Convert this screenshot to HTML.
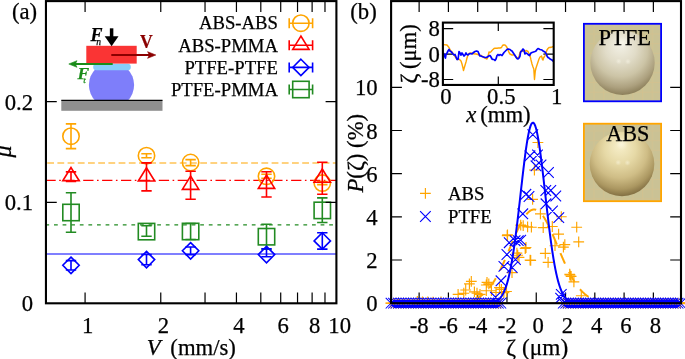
<!DOCTYPE html>
<html><head><meta charset="utf-8"><style>
html,body{margin:0;padding:0;background:#fff;width:685px;height:359px;overflow:hidden;position:relative}
text{font-family:"Liberation Serif",serif;stroke:#000;stroke-width:0.25px}
</style></head><body>
<svg width="685" height="359" viewBox="0 0 685 359" style="position:absolute;left:0;top:0;will-change:transform">
<defs>
<radialGradient id="sphP" cx="0.47" cy="0.36" r="0.7" fx="0.47" fy="0.2">
<stop offset="0" stop-color="#f4f2e8"/><stop offset="0.35" stop-color="#e1dcc8"/><stop offset="0.6" stop-color="#ccc4a6"/><stop offset="0.8" stop-color="#aca07e"/><stop offset="0.95" stop-color="#877a55"/></radialGradient>
<radialGradient id="sphA" cx="0.47" cy="0.36" r="0.7" fx="0.47" fy="0.2">
<stop offset="0" stop-color="#f8f0cc"/><stop offset="0.35" stop-color="#e6d9a6"/><stop offset="0.6" stop-color="#cfbd86"/><stop offset="0.8" stop-color="#ab9761"/><stop offset="0.95" stop-color="#7c693e"/></radialGradient>
<radialGradient id="spec"><stop offset="0" stop-color="#fffdf0" stop-opacity="0.45"/><stop offset="1" stop-color="#fffdf0" stop-opacity="0"/></radialGradient>
<pattern id="grid" x="583.8" y="23.8" width="9.7" height="9.7" patternUnits="userSpaceOnUse"><rect width="9.7" height="9.7" fill="#cac295"/><path d="M0 0.5H9.7M0.5 0V9.7" stroke="#dcc08a" stroke-width="1" opacity="0.4"/></pattern>
</defs>
<line x1="45.95" y1="163.0" x2="336.4" y2="163.0" stroke="#ffa500" stroke-width="1.2" stroke-dasharray="6.8 3.4" stroke-dashoffset="8.95"/>
<line x1="45.95" y1="180.3" x2="336.4" y2="180.3" stroke="#ff0000" stroke-width="1.2" stroke-dasharray="10.3 3.5 1.6 3.5" stroke-dashoffset="0.55"/>
<line x1="45.95" y1="224.9" x2="336.4" y2="224.9" stroke="#228b22" stroke-width="1.2" stroke-dasharray="3.75 4.85" stroke-dashoffset="0.55"/>
<line x1="45.95" y1="254.0" x2="336.4" y2="254.0" stroke="#0000ff" stroke-width="1.1"/>
<path d="M71.0 123.9V148.6M65.8 123.9H76.2M65.8 148.6H76.2" fill="none" stroke="#ffa500" stroke-width="1.6"/>
<circle cx="71.0" cy="136.2" r="8.2" fill="none" stroke="#ffa500" stroke-width="1.6"/>
<path d="M146.5 153.7V157.8M141.3 153.7H151.7M141.3 157.8H151.7" fill="none" stroke="#ffa500" stroke-width="1.6"/>
<circle cx="146.5" cy="155.7" r="8.2" fill="none" stroke="#ffa500" stroke-width="1.6"/>
<path d="M190.6 159.6V165.6M185.4 159.6H195.79999999999998M185.4 165.6H195.79999999999998" fill="none" stroke="#ffa500" stroke-width="1.6"/>
<circle cx="190.6" cy="162.5" r="8.2" fill="none" stroke="#ffa500" stroke-width="1.6"/>
<path d="M266.5 174.3V178.3M261.3 174.3H271.7M261.3 178.3H271.7" fill="none" stroke="#ffa500" stroke-width="1.6"/>
<circle cx="266.5" cy="176.3" r="8.2" fill="none" stroke="#ffa500" stroke-width="1.6"/>
<path d="M322.3 181.6V184.6M317.1 181.6H327.5M317.1 184.6H327.5" fill="none" stroke="#ffa500" stroke-width="1.6"/>
<circle cx="322.3" cy="183.1" r="8.2" fill="none" stroke="#ffa500" stroke-width="1.6"/>
<path d="M71.0 171.9V181.5M65.8 171.9H76.2M65.8 181.5H76.2" fill="none" stroke="#ff0000" stroke-width="1.6"/>
<path d="M71.0 167.52L62.80 180.80H79.20Z" fill="none" stroke="#ff0000" stroke-width="1.6" stroke-linejoin="miter"/>
<path d="M146.5 162.9V190.9M141.3 162.9H151.7M141.3 190.9H151.7" fill="none" stroke="#ff0000" stroke-width="1.6"/>
<path d="M146.5 167.72L138.30 181.00H154.70Z" fill="none" stroke="#ff0000" stroke-width="1.6" stroke-linejoin="miter"/>
<path d="M190.6 171.3V199.2M185.4 171.3H195.79999999999998M185.4 199.2H195.79999999999998" fill="none" stroke="#ff0000" stroke-width="1.6"/>
<path d="M190.6 176.12L182.40 189.40H198.80Z" fill="none" stroke="#ff0000" stroke-width="1.6" stroke-linejoin="miter"/>
<path d="M266.5 171.7V197.0M261.3 171.7H271.7M261.3 197.0H271.7" fill="none" stroke="#ff0000" stroke-width="1.6"/>
<path d="M266.5 175.12L258.30 188.40H274.70Z" fill="none" stroke="#ff0000" stroke-width="1.6" stroke-linejoin="miter"/>
<path d="M322.3 162.2V194.2M317.1 162.2H327.5M317.1 194.2H327.5" fill="none" stroke="#ff0000" stroke-width="1.6"/>
<path d="M322.3 169.02L314.10 182.30H330.50Z" fill="none" stroke="#ff0000" stroke-width="1.6" stroke-linejoin="miter"/>
<path d="M71.0 192.7V232.3M65.8 192.7H76.2M65.8 232.3H76.2" fill="none" stroke="#228b22" stroke-width="1.6"/>
<rect x="62.80" y="204.30" width="16.40" height="16.40" fill="none" stroke="#228b22" stroke-width="1.6"/>
<path d="M146.5 225.8V236.3M141.3 225.8H151.7M141.3 236.3H151.7" fill="none" stroke="#228b22" stroke-width="1.6"/>
<rect x="138.30" y="223.40" width="16.40" height="16.40" fill="none" stroke="#228b22" stroke-width="1.6"/>
<path d="M190.6 223.5V239.5M185.4 223.5H195.79999999999998M185.4 239.5H195.79999999999998" fill="none" stroke="#228b22" stroke-width="1.6"/>
<rect x="182.40" y="223.30" width="16.40" height="16.40" fill="none" stroke="#228b22" stroke-width="1.6"/>
<path d="M266.5 224.2V249.2M261.3 224.2H271.7M261.3 249.2H271.7" fill="none" stroke="#228b22" stroke-width="1.6"/>
<rect x="258.30" y="228.50" width="16.40" height="16.40" fill="none" stroke="#228b22" stroke-width="1.6"/>
<path d="M322.3 197.9V222.5M317.1 197.9H327.5M317.1 222.5H327.5" fill="none" stroke="#228b22" stroke-width="1.6"/>
<rect x="314.10" y="202.20" width="16.40" height="16.40" fill="none" stroke="#228b22" stroke-width="1.6"/>
<path d="M71.0 260.6V270.0M65.8 260.6H76.2M65.8 270.0H76.2" fill="none" stroke="#0000ff" stroke-width="1.6"/>
<path d="M71.0 257.10L79.20 265.3L71.0 273.50L62.80 265.3Z" fill="none" stroke="#0000ff" stroke-width="1.6"/>
<path d="M146.5 254.5V264.7M141.3 254.5H151.7M141.3 264.7H151.7" fill="none" stroke="#0000ff" stroke-width="1.6"/>
<path d="M146.5 251.40L154.70 259.6L146.5 267.80L138.30 259.6Z" fill="none" stroke="#0000ff" stroke-width="1.6"/>
<path d="M190.6 247.0V254.6M185.4 247.0H195.79999999999998M185.4 254.6H195.79999999999998" fill="none" stroke="#0000ff" stroke-width="1.6"/>
<path d="M190.6 242.60L198.80 250.8L190.6 259.00L182.40 250.8Z" fill="none" stroke="#0000ff" stroke-width="1.6"/>
<path d="M266.5 248.7V256.7M261.3 248.7H271.7M261.3 256.7H271.7" fill="none" stroke="#0000ff" stroke-width="1.6"/>
<path d="M266.5 246.40L274.70 254.6L266.5 262.80L258.30 254.6Z" fill="none" stroke="#0000ff" stroke-width="1.6"/>
<path d="M322.3 232.7V249.1M317.1 232.7H327.5M317.1 249.1H327.5" fill="none" stroke="#0000ff" stroke-width="1.6"/>
<path d="M322.3 232.70L330.50 240.9L322.3 249.10L314.10 240.9Z" fill="none" stroke="#0000ff" stroke-width="1.6"/>
<text x="277.9" y="29.4" font-family="Liberation Serif" font-size="18.7" text-anchor="end">ABS-ABS</text>
<path d="M289.2 23.2H312.6M289.2 18.2V28.2M312.6 18.2V28.2" stroke="#ffa500" stroke-width="1.6" fill="none"/>
<circle cx="300.9" cy="23.2" r="8.2" fill="none" stroke="#ffa500" stroke-width="1.6"/>
<text x="277.9" y="51.5" font-family="Liberation Serif" font-size="18.7" text-anchor="end">ABS-PMMA</text>
<path d="M289.2 45.3H312.6M289.2 40.3V50.3M312.6 40.3V50.3" stroke="#ff0000" stroke-width="1.6" fill="none"/>
<path d="M300.9 36.12L292.70 49.40H309.10Z" fill="none" stroke="#ff0000" stroke-width="1.6" stroke-linejoin="miter"/>
<text x="277.9" y="73.6" font-family="Liberation Serif" font-size="18.7" text-anchor="end">PTFE-PTFE</text>
<path d="M289.2 67.4H312.6M289.2 62.400000000000006V72.4M312.6 62.400000000000006V72.4" stroke="#0000ff" stroke-width="1.6" fill="none"/>
<path d="M300.9 59.20L309.10 67.4L300.9 75.60L292.70 67.4Z" fill="none" stroke="#0000ff" stroke-width="1.6"/>
<text x="277.9" y="95.7" font-family="Liberation Serif" font-size="18.7" text-anchor="end">PTFE-PMMA</text>
<path d="M289.2 89.5H312.6M289.2 84.5V94.5M312.6 84.5V94.5" stroke="#228b22" stroke-width="1.6" fill="none"/>
<rect x="292.70" y="81.30" width="16.40" height="16.40" fill="none" stroke="#228b22" stroke-width="1.6"/>
<clipPath id="ballclip"><rect x="80" y="66" width="70" height="34.3"/></clipPath>
<circle cx="111.5" cy="85" r="22.6" fill="#7e7efa" clip-path="url(#ballclip)"/>
<rect x="61.3" y="100.3" width="101.2" height="10.5" fill="#8f8f8f"/>
<line x1="61.3" y1="100.3" x2="162.5" y2="100.3" stroke="#000" stroke-width="1.2"/>
<rect x="93.2" y="63.8" width="37.6" height="6.4" rx="3.2" fill="#87cefa"/>
<rect x="86.3" y="45.8" width="50.4" height="17.8" fill="#fa3434"/>
<path d="M111.3 55H150" stroke="#8b0000" stroke-width="2.0"/><path d="M155.8 55L147.6 51.7L149.4 55L147.6 58.3Z" fill="#8b0000" stroke="#8b0000" stroke-width="0.6" stroke-linejoin="round"/>
<path d="M112.7 64H75" stroke="#1a8c1a" stroke-width="2.0"/><path d="M68.8 64L77 60.7L75.3 64L77 67.3Z" fill="#1a8c1a" stroke="#1a8c1a" stroke-width="0.6" stroke-linejoin="round"/>
<path d="M111.6 28.3V37.5" stroke="#000" stroke-width="3.5"/><path d="M111.6 46.3L104.7 36.2H118.5Z" fill="#000"/>
<text x="90.6" y="40.6" font-family="Liberation Serif" font-size="18" font-weight="bold" font-style="italic">F</text>
<text x="96.2" y="45.2" font-family="Liberation Serif" font-size="9.5" font-style="italic">n</text>
<text x="140.1" y="47.7" font-family="Liberation Serif" font-size="19" font-weight="bold" fill="#8b0000" style="stroke:#8b0000" transform="translate(140.1 0) scale(0.93 1) translate(-140.1 0)">V</text>
<text x="77.4" y="79.2" font-family="Liberation Serif" font-size="17.5" font-weight="bold" font-style="italic" fill="#1a8c1a" style="stroke:#1a8c1a">F</text>
<text x="83.3" y="83.4" font-family="Liberation Serif" font-size="9" font-style="italic" fill="#1a8c1a" style="stroke:#1a8c1a">t</text>
<rect x="45.95" y="1.1" width="290.45" height="302.2" fill="none" stroke="#000" stroke-width="2.1"/>
<path d="M85.08 303.3v-10.8M85.08 1.1v10.8M160.76 303.3v-10.8M160.76 1.1v10.8M205.03 303.3v-10.8M205.03 1.1v10.8M236.44 303.3v-10.8M236.44 1.1v10.8M260.80 303.3v-10.8M260.80 1.1v10.8M280.71 303.3v-10.8M280.71 1.1v10.8M297.54 303.3v-10.8M297.54 1.1v10.8M312.12 303.3v-10.8M312.12 1.1v10.8M324.98 303.3v-10.8M324.98 1.1v10.8M45.95 202.45h10.8M336.4 202.45h-10.8M45.95 101.60h10.8M336.4 101.60h-10.8" stroke="#000" stroke-width="1.2" fill="none"/>
<text x="87.6" y="333.1" font-family="Liberation Serif" font-size="22.7" text-anchor="middle">1</text>
<text x="163.3" y="333.1" font-family="Liberation Serif" font-size="22.7" text-anchor="middle">2</text>
<text x="238.9" y="333.1" font-family="Liberation Serif" font-size="22.7" text-anchor="middle">4</text>
<text x="283.2" y="333.1" font-family="Liberation Serif" font-size="22.7" text-anchor="middle">6</text>
<text x="314.6" y="333.1" font-family="Liberation Serif" font-size="22.7" text-anchor="middle">8</text>
<text x="339.7" y="333.1" font-family="Liberation Serif" font-size="22.7" text-anchor="middle">10</text>
<text x="33.1" y="311.3" font-family="Liberation Serif" font-size="22.7" text-anchor="end">0</text>
<text x="33.1" y="210.4" font-family="Liberation Serif" font-size="22.7" text-anchor="end">0.1</text>
<text x="33.1" y="109.6" font-family="Liberation Serif" font-size="22.7" text-anchor="end">0.2</text>
<text x="146.8" y="354.7" font-family="Liberation Serif" font-size="22.7"><tspan font-style="italic">V</tspan><tspan dx="9.7">(mm/s)</tspan></text>
<text transform="translate(11.2 151.6) rotate(-90)" font-family="Liberation Serif" font-size="24" font-style="italic" text-anchor="middle">μ</text>
<text x="12" y="19.3" font-family="Liberation Serif" font-size="22.7">(a)</text>
<text x="350.3" y="19.3" font-family="Liberation Serif" font-size="22.7">(b)</text>
<path d="M419.13 303.2v-10.8M419.13 1.1v10.8M448.41 303.2v-10.8M448.41 1.1v10.8M477.69 303.2v-10.8M477.69 1.1v10.8M506.97 303.2v-10.8M506.97 1.1v10.8M536.25 303.2v-10.8M536.25 1.1v10.8M565.53 303.2v-10.8M565.53 1.1v10.8M594.81 303.2v-10.8M594.81 1.1v10.8M624.09 303.2v-10.8M624.09 1.1v10.8M653.37 303.2v-10.8M653.37 1.1v10.8M391.1 260.02h10.8M681.0 260.02h-10.8M391.1 216.84h10.8M681.0 216.84h-10.8M391.1 173.66h10.8M681.0 173.66h-10.8M391.1 130.48h10.8M681.0 130.48h-10.8M391.1 87.30h10.8M681.0 87.30h-10.8" stroke="#000" stroke-width="1.2" fill="none"/>
<path d="M385.62 303.20h10.8M391.02 297.80v10.8M388.12 303.20h10.8M393.52 297.80v10.8M390.61 303.20h10.8M396.01 297.80v10.8M393.11 303.20h10.8M398.51 297.80v10.8M395.61 303.20h10.8M401.01 297.80v10.8M398.10 303.20h10.8M403.50 297.80v10.8M400.60 303.20h10.8M406.00 297.80v10.8M403.09 303.20h10.8M408.49 297.80v10.8M405.59 303.20h10.8M410.99 297.80v10.8M408.09 303.20h10.8M413.49 297.80v10.8M410.58 303.20h10.8M415.98 297.80v10.8M413.08 303.20h10.8M418.48 297.80v10.8M415.57 303.20h10.8M420.97 297.80v10.8M418.07 303.20h10.8M423.47 297.80v10.8M420.57 303.20h10.8M425.97 297.80v10.8M423.06 303.20h10.8M428.46 297.80v10.8M425.56 303.20h10.8M430.96 297.80v10.8M428.06 303.20h10.8M433.46 297.80v10.8M430.55 303.20h10.8M435.95 297.80v10.8M433.05 303.20h10.8M438.45 297.80v10.8M435.54 303.20h10.8M440.94 297.80v10.8M438.04 303.20h10.8M443.44 297.80v10.8M440.54 303.20h10.8M445.94 297.80v10.8M443.03 303.20h10.8M448.43 297.80v10.8M445.53 303.20h10.8M450.93 297.80v10.8M448.02 303.20h10.8M453.42 297.80v10.8M450.52 303.20h10.8M455.92 297.80v10.8M453.02 303.20h10.8M458.42 297.80v10.8M455.51 303.20h10.8M460.91 297.80v10.8M458.01 303.20h10.8M463.41 297.80v10.8M460.50 303.20h10.8M465.90 297.80v10.8M463.00 303.20h10.8M468.40 297.80v10.8M465.50 303.20h10.8M470.90 297.80v10.8M467.99 303.20h10.8M473.39 297.80v10.8M470.49 303.20h10.8M475.89 297.80v10.8M472.99 303.20h10.8M478.39 297.80v10.8M475.48 303.20h10.8M480.88 297.80v10.8M477.98 303.20h10.8M483.38 297.80v10.8M480.47 303.20h10.8M485.87 297.80v10.8M482.97 303.20h10.8M488.37 297.80v10.8M485.47 303.20h10.8M490.87 297.80v10.8M487.96 303.20h10.8M493.36 297.80v10.8M490.46 303.20h10.8M495.86 297.80v10.8M492.95 303.20h10.8M498.35 297.80v10.8M495.45 303.20h10.8M500.85 297.80v10.8M557.85 303.20h10.8M563.25 297.80v10.8M560.35 303.20h10.8M565.75 297.80v10.8M562.85 303.20h10.8M568.25 297.80v10.8M565.34 303.20h10.8M570.74 297.80v10.8M567.84 303.20h10.8M573.24 297.80v10.8M570.33 303.20h10.8M575.73 297.80v10.8M572.83 303.20h10.8M578.23 297.80v10.8M575.33 303.20h10.8M580.73 297.80v10.8M577.82 303.20h10.8M583.22 297.80v10.8M580.32 303.20h10.8M585.72 297.80v10.8M582.81 303.20h10.8M588.21 297.80v10.8M585.31 303.20h10.8M590.71 297.80v10.8M587.81 303.20h10.8M593.21 297.80v10.8M590.30 303.20h10.8M595.70 297.80v10.8M592.80 303.20h10.8M598.20 297.80v10.8M595.30 303.20h10.8M600.70 297.80v10.8M597.79 303.20h10.8M603.19 297.80v10.8M600.29 303.20h10.8M605.69 297.80v10.8M602.78 303.20h10.8M608.18 297.80v10.8M605.28 303.20h10.8M610.68 297.80v10.8M607.78 303.20h10.8M613.18 297.80v10.8M610.27 303.20h10.8M615.67 297.80v10.8M612.77 303.20h10.8M618.17 297.80v10.8M615.26 303.20h10.8M620.66 297.80v10.8M617.76 303.20h10.8M623.16 297.80v10.8M620.26 303.20h10.8M625.66 297.80v10.8M622.75 303.20h10.8M628.15 297.80v10.8M625.25 303.20h10.8M630.65 297.80v10.8M627.74 303.20h10.8M633.14 297.80v10.8M630.24 303.20h10.8M635.64 297.80v10.8M632.74 303.20h10.8M638.14 297.80v10.8M635.23 303.20h10.8M640.63 297.80v10.8M637.73 303.20h10.8M643.13 297.80v10.8M640.23 303.20h10.8M645.63 297.80v10.8M642.72 303.20h10.8M648.12 297.80v10.8M645.22 303.20h10.8M650.62 297.80v10.8M647.71 303.20h10.8M653.11 297.80v10.8M650.21 303.20h10.8M655.61 297.80v10.8M652.71 303.20h10.8M658.11 297.80v10.8M655.20 303.20h10.8M660.60 297.80v10.8M657.70 303.20h10.8M663.10 297.80v10.8M660.19 303.20h10.8M665.59 297.80v10.8M662.69 303.20h10.8M668.09 297.80v10.8M665.19 303.20h10.8M670.59 297.80v10.8M667.68 303.20h10.8M673.08 297.80v10.8M670.18 303.20h10.8M675.58 297.80v10.8M672.68 303.20h10.8M678.08 297.80v10.8M675.17 303.20h10.8M680.57 297.80v10.8" stroke="#ffa500" stroke-width="1.0" fill="none"/>
<path d="M385.6 303.2H686" stroke="#ffa500" stroke-width="1.2"/>
<path d="M391.00 303.20L391.25 303.20L391.50 303.20L391.75 303.20L392.00 303.20L392.25 303.20L392.50 303.20L392.75 303.20L393.00 303.20L393.25 303.20L393.50 303.20L393.75 303.20L394.00 303.20L394.25 303.20L394.50 303.20L394.75 303.20L395.00 303.20L395.25 303.20L395.50 303.20L395.75 303.20L396.00 303.20L396.25 303.20L396.50 303.20L396.75 303.20L397.00 303.20L397.25 303.20L397.50 303.20L397.75 303.20L398.00 303.20L398.25 303.20L398.50 303.20L398.75 303.20L399.00 303.20L399.25 303.20L399.50 303.20L399.75 303.20L400.00 303.20L400.25 303.20L400.50 303.20L400.75 303.20L401.00 303.20L401.25 303.20L401.50 303.20L401.75 303.20L402.00 303.20L402.25 303.20L402.50 303.20L402.75 303.20L403.00 303.20L403.25 303.20L403.50 303.20L403.75 303.20L404.00 303.20L404.25 303.20L404.50 303.20L404.75 303.20L405.00 303.20L405.25 303.20L405.50 303.20L405.75 303.20L406.00 303.20L406.25 303.20L406.50 303.20L406.75 303.20L407.00 303.20L407.25 303.20L407.50 303.20L407.75 303.20L408.00 303.20L408.25 303.20L408.50 303.20L408.75 303.20L409.00 303.20L409.25 303.20L409.50 303.20L409.75 303.20L410.00 303.20L410.25 303.20L410.50 303.20L410.75 303.20L411.00 303.20L411.25 303.20L411.50 303.20L411.75 303.20L412.00 303.20L412.25 303.20L412.50 303.20L412.75 303.20L413.00 303.20L413.25 303.20L413.50 303.20L413.75 303.20L414.00 303.20L414.25 303.20L414.50 303.20L414.75 303.20L415.00 303.20L415.25 303.20L415.50 303.20L415.75 303.20L416.00 303.20L416.25 303.20L416.50 303.20L416.75 303.20L417.00 303.20L417.25 303.20L417.50 303.20L417.75 303.20L418.00 303.20L418.25 303.20L418.50 303.20L418.75 303.20L419.00 303.20L419.25 303.20L419.50 303.20L419.75 303.20L420.00 303.20L420.25 303.20L420.50 303.20L420.75 303.20L421.00 303.20L421.25 303.20L421.50 303.20L421.75 303.20L422.00 303.20L422.25 303.20L422.50 303.20L422.75 303.20L423.00 303.20L423.25 303.20L423.50 303.20L423.75 303.20L424.00 303.20L424.25 303.20L424.50 303.20L424.75 303.20L425.00 303.20L425.25 303.20L425.50 303.20L425.75 303.20L426.00 303.20L426.25 303.20L426.50 303.20L426.75 303.20L427.00 303.20L427.25 303.20L427.50 303.20L427.75 303.20L428.00 303.20L428.25 303.20L428.50 303.20L428.75 303.20L429.00 303.20L429.25 303.20L429.50 303.20L429.75 303.19L430.00 303.19L430.25 303.19L430.50 303.19L430.75 303.19L431.00 303.19L431.25 303.19L431.50 303.19L431.75 303.19L432.00 303.19L432.25 303.19L432.50 303.19L432.75 303.19L433.00 303.19L433.25 303.19L433.50 303.19L433.75 303.19L434.00 303.19L434.25 303.19L434.50 303.19L434.75 303.19L435.00 303.19L435.25 303.19L435.50 303.19L435.75 303.18L436.00 303.18L436.25 303.18L436.50 303.18L436.75 303.18L437.00 303.18L437.25 303.18L437.50 303.18L437.75 303.18L438.00 303.18L438.25 303.18L438.50 303.18L438.75 303.17L439.00 303.17L439.25 303.17L439.50 303.17L439.75 303.17L440.00 303.17L440.25 303.17L440.50 303.17L440.75 303.16L441.00 303.16L441.25 303.16L441.50 303.16L441.75 303.16L442.00 303.16L442.25 303.15L442.50 303.15L442.75 303.15L443.00 303.15L443.25 303.15L443.50 303.14L443.75 303.14L444.00 303.14L444.25 303.14L444.50 303.13L444.75 303.13L445.00 303.13L445.25 303.12L445.50 303.12L445.75 303.12L446.00 303.12L446.25 303.11L446.50 303.11L446.75 303.10L447.00 303.10L447.25 303.10L447.50 303.09L447.75 303.09L448.00 303.08L448.25 303.08L448.50 303.07L448.75 303.07L449.00 303.06L449.25 303.06L449.50 303.05L449.75 303.05L450.00 303.04L450.25 303.04L450.50 303.03L450.75 303.02L451.00 303.02L451.25 303.01L451.50 303.00L451.75 302.99L452.00 302.99L452.25 302.98L452.50 302.97L452.75 302.96L453.00 302.95L453.25 302.94L453.50 302.93L453.75 302.92L454.00 302.91L454.25 302.90L454.50 302.89L454.75 302.88L455.00 302.87L455.25 302.86L455.50 302.85L455.75 302.83L456.00 302.82L456.25 302.81L456.50 302.79L456.75 302.78L457.00 302.76L457.25 302.75L457.50 302.73L457.75 302.72L458.00 302.70L458.25 302.68L458.50 302.66L458.75 302.64L459.00 302.62L459.25 302.61L459.50 302.58L459.75 302.56L460.00 302.54L460.25 302.52L460.50 302.50L460.75 302.47L461.00 302.45L461.25 302.42L461.50 302.40L461.75 302.37L462.00 302.34L462.25 302.31L462.50 302.29L462.75 302.26L463.00 302.22L463.25 302.19L463.50 302.16L463.75 302.13L464.00 302.09L464.25 302.06L464.50 302.02L464.75 301.98L465.00 301.94L465.25 301.90L465.50 301.86L465.75 301.82L466.00 301.78L466.25 301.73L466.50 301.69L466.75 301.64L467.00 301.59L467.25 301.54L467.50 301.49L467.75 301.44L468.00 301.39L468.25 301.33L468.50 301.28L468.75 301.22L469.00 301.16L469.25 301.10L469.50 301.04L469.75 300.97L470.00 300.91L470.25 300.84L470.50 300.77L470.75 300.70L471.00 300.63L471.25 300.55L471.50 300.48L471.75 300.40L472.00 300.32L472.25 300.24L472.50 300.16L472.75 300.07L473.00 299.98L473.25 299.89L473.50 299.80L473.75 299.71L474.00 299.61L474.25 299.51L474.50 299.41L474.75 299.31L475.00 299.20L475.25 299.09L475.50 298.98L475.75 298.87L476.00 298.76L476.25 298.64L476.50 298.52L476.75 298.39L477.00 298.27L477.25 298.14L477.50 298.01L477.75 297.87L478.00 297.74L478.25 297.60L478.50 297.45L478.75 297.31L479.00 297.16L479.25 297.01L479.50 296.85L479.75 296.70L480.00 296.53L480.25 296.37L480.50 296.20L480.75 296.03L481.00 295.86L481.25 295.68L481.50 295.50L481.75 295.31L482.00 295.13L482.25 294.93L482.50 294.74L482.75 294.54L483.00 294.34L483.25 294.13L483.50 293.92L483.75 293.71L484.00 293.49L484.25 293.27L484.50 293.04L484.75 292.81L485.00 292.58L485.25 292.34L485.50 292.10L485.75 291.85L486.00 291.60L486.25 291.35L486.50 291.09L486.75 290.83L487.00 290.56L487.25 290.29L487.50 290.02L487.75 289.74L488.00 289.45L488.25 289.16L488.50 288.87L488.75 288.57L489.00 288.27L489.25 287.97L489.50 287.66L489.75 287.34L490.00 287.02L490.25 286.70L490.50 286.37L490.75 286.03L491.00 285.69L491.25 285.35L491.50 285.00L491.75 284.65L492.00 284.29L492.25 283.93L492.50 283.57L492.75 283.19L493.00 282.82L493.25 282.44L493.50 282.05L493.75 281.66L494.00 281.27L494.25 280.87L494.50 280.46L494.75 280.06L495.00 279.64L495.25 279.22L495.50 278.80L495.75 278.37L496.00 277.94L496.25 277.50L496.50 277.06L496.75 276.62L497.00 276.17L497.25 275.71L497.50 275.25L497.75 274.79L498.00 274.32L498.25 273.85L498.50 273.37L498.75 272.89L499.00 272.40L499.25 271.91L499.50 271.42L499.75 270.92L500.00 270.41L500.25 269.91L500.50 269.40L500.75 268.88L501.00 268.36L501.25 267.84L501.50 267.31L501.75 266.78L502.00 266.25L502.25 265.71L502.50 265.17L502.75 264.63L503.00 264.08L503.25 263.53L503.50 262.97L503.75 262.42L504.00 261.86L504.25 261.29L504.50 260.73L504.75 260.16L505.00 259.59L505.25 259.01L505.50 258.44L505.75 257.86L506.00 257.27L506.25 256.69L506.50 256.10L506.75 255.52L507.00 254.93L507.25 254.34L507.50 253.74L507.75 253.15L508.00 252.55L508.25 251.95L508.50 251.36L508.75 250.76L509.00 250.15L509.25 249.55L509.50 248.95L509.75 248.35L510.00 247.74L510.25 247.14L510.50 246.54L510.75 245.93L511.00 245.33L511.25 244.73L511.50 244.12L511.75 243.52L512.00 242.92L512.25 242.32L512.50 241.72L512.75 241.12L513.00 240.52L513.25 239.92L513.50 239.33L513.75 238.74L514.00 238.14L514.25 237.55L514.50 236.97L514.75 236.38L515.00 235.80L515.25 235.22L515.50 234.64L515.75 234.07L516.00 233.50L516.25 232.93L516.50 232.36L516.75 231.80L517.00 231.25L517.25 230.69L517.50 230.14L517.75 229.60L518.00 229.06L518.25 228.52L518.50 227.99L518.75 227.46L519.00 226.94L519.25 226.42L519.50 225.91L519.75 225.40L520.00 224.90L520.25 224.40L520.50 223.91L520.75 223.43L521.00 222.95L521.25 222.48L521.50 222.02L521.75 221.56L522.00 221.10L522.25 220.66L522.50 220.22L522.75 219.79L523.00 219.37L523.25 218.95L523.50 218.54L523.75 218.14L524.00 217.75L524.25 217.36L524.50 216.98L524.75 216.61L525.00 216.25L525.25 215.90L525.50 215.55L525.75 215.22L526.00 214.89L526.25 214.57L526.50 214.26L526.75 213.96L527.00 213.67L527.25 213.39L527.50 213.11L527.75 212.85L528.00 212.60L528.25 212.35L528.50 212.12L528.75 211.89L529.00 211.68L529.25 211.47L529.50 211.27L529.75 211.09L530.00 210.91L530.25 210.75L530.50 210.59L530.75 210.44L531.00 210.31L531.25 210.18L531.50 210.07L531.75 209.97L532.00 209.87L532.25 209.79L532.50 209.72L532.75 209.65L533.00 209.60L533.25 209.56L533.50 209.53L533.75 209.51L534.00 209.50L534.25 209.50L534.50 209.51L534.75 209.54L535.00 209.57L535.25 209.61L535.50 209.67L535.75 209.73L536.00 209.80L536.25 209.89L536.50 209.99L536.75 210.09L537.00 210.21L537.25 210.34L537.50 210.47L537.75 210.62L538.00 210.78L538.25 210.95L538.50 211.12L538.75 211.31L539.00 211.51L539.25 211.72L539.50 211.94L539.75 212.16L540.00 212.40L540.25 212.65L540.50 212.90L540.75 213.17L541.00 213.44L541.25 213.73L541.50 214.02L541.75 214.32L542.00 214.63L542.25 214.96L542.50 215.28L542.75 215.62L543.00 215.97L543.25 216.32L543.50 216.69L543.75 217.06L544.00 217.44L544.25 217.82L544.50 218.22L544.75 218.62L545.00 219.03L545.25 219.45L545.50 219.88L545.75 220.31L546.00 220.75L546.25 221.19L546.50 221.65L546.75 222.11L547.00 222.57L547.25 223.05L547.50 223.53L547.75 224.01L548.00 224.50L548.25 225.00L548.50 225.50L548.75 226.01L549.00 226.52L549.25 227.04L549.50 227.56L549.75 228.09L550.00 228.63L550.25 229.16L550.50 229.71L550.75 230.25L551.00 230.80L551.25 231.36L551.50 231.92L551.75 232.48L552.00 233.04L552.25 233.61L552.50 234.18L552.75 234.76L553.00 235.34L553.25 235.92L553.50 236.50L553.75 237.08L554.00 237.67L554.25 238.26L554.50 238.85L554.75 239.45L555.00 240.04L555.25 240.64L555.50 241.24L555.75 241.84L556.00 242.44L556.25 243.04L556.50 243.64L556.75 244.24L557.00 244.85L557.25 245.45L557.50 246.05L557.75 246.66L558.00 247.26L558.25 247.87L558.50 248.47L558.75 249.07L559.00 249.67L559.25 250.27L559.50 250.88L559.75 251.47L560.00 252.07L560.25 252.67L560.50 253.27L560.75 253.86L561.00 254.45L561.25 255.05L561.50 255.63L561.75 256.22L562.00 256.81L562.25 257.39L562.50 257.97L562.75 258.55L563.00 259.13L563.25 259.70L563.50 260.27L563.75 260.84L564.00 261.41L564.25 261.97L564.50 262.53L564.75 263.09L565.00 263.64L565.25 264.19L565.50 264.74L565.75 265.28L566.00 265.82L566.25 266.36L566.50 266.89L566.75 267.42L567.00 267.95L567.25 268.47L567.50 268.99L567.75 269.50L568.00 270.01L568.25 270.52L568.50 271.02L568.75 271.52L569.00 272.01L569.25 272.50L569.50 272.98L569.75 273.46L570.00 273.94L570.25 274.41L570.50 274.88L570.75 275.34L571.00 275.80L571.25 276.26L571.50 276.71L571.75 277.15L572.00 277.59L572.25 278.03L572.50 278.46L572.75 278.89L573.00 279.31L573.25 279.73L573.50 280.14L573.75 280.55L574.00 280.95L574.25 281.35L574.50 281.74L574.75 282.13L575.00 282.51L575.25 282.89L575.50 283.27L575.75 283.64L576.00 284.01L576.25 284.37L576.50 284.72L576.75 285.07L577.00 285.42L577.25 285.76L577.50 286.10L577.75 286.43L578.00 286.76L578.25 287.08L578.50 287.40L578.75 287.72L579.00 288.03L579.25 288.33L579.50 288.63L579.75 288.93L580.00 289.22L580.25 289.51L580.50 289.79L580.75 290.07L581.00 290.35L581.25 290.62L581.50 290.88L581.75 291.14L582.00 291.40L582.25 291.65L582.50 291.90L582.75 292.15L583.00 292.39L583.25 292.62L583.50 292.86L583.75 293.09L584.00 293.31L584.25 293.53L584.50 293.75L584.75 293.96L585.00 294.17L585.25 294.38L585.50 294.58L585.75 294.78L586.00 294.97L586.25 295.16L586.50 295.35L586.75 295.53L587.00 295.71L587.25 295.89L587.50 296.07L587.75 296.24L588.00 296.40L588.25 296.57L588.50 296.73L588.75 296.88L589.00 297.04L589.25 297.19L589.50 297.34L589.75 297.48L590.00 297.63L590.25 297.77L590.50 297.90L590.75 298.03L591.00 298.17L591.25 298.29L591.50 298.42L591.75 298.54L592.00 298.66L592.25 298.78L592.50 298.89L592.75 299.01L593.00 299.12L593.25 299.22L593.50 299.33L593.75 299.43L594.00 299.53L594.25 299.63L594.50 299.73L594.75 299.82L595.00 299.91L595.25 300.00L595.50 300.09L595.75 300.17L596.00 300.26L596.25 300.34L596.50 300.42L596.75 300.49L597.00 300.57L597.25 300.64L597.50 300.72L597.75 300.79L598.00 300.85L598.25 300.92L598.50 300.99L598.75 301.05L599.00 301.11L599.25 301.17L599.50 301.23L599.75 301.29L600.00 301.34L600.25 301.40L600.50 301.45L600.75 301.50L601.00 301.55L601.25 301.60L601.50 301.65L601.75 301.70L602.00 301.74L602.25 301.79L602.50 301.83L602.75 301.87L603.00 301.91L603.25 301.95L603.50 301.99L603.75 302.03L604.00 302.06L604.25 302.10L604.50 302.13L604.75 302.17L605.00 302.20L605.25 302.23L605.50 302.26L605.75 302.29L606.00 302.32L606.25 302.35L606.50 302.38L606.75 302.40L607.00 302.43L607.25 302.45L607.50 302.48L607.75 302.50L608.00 302.52L608.25 302.55L608.50 302.57L608.75 302.59L609.00 302.61L609.25 302.63L609.50 302.65L609.75 302.67L610.00 302.68L610.25 302.70L610.50 302.72L610.75 302.73L611.00 302.75L611.25 302.77L611.50 302.78L611.75 302.80L612.00 302.81L612.25 302.82L612.50 302.84L612.75 302.85L613.00 302.86L613.25 302.87L613.50 302.88L613.75 302.90L614.00 302.91L614.25 302.92L614.50 302.93L614.75 302.94L615.00 302.95L615.25 302.96L615.50 302.96L615.75 302.97L616.00 302.98L616.25 302.99L616.50 303.00L616.75 303.00L617.00 303.01L617.25 303.02L617.50 303.02L617.75 303.03L618.00 303.04L618.25 303.04L618.50 303.05L618.75 303.06L619.00 303.06L619.25 303.07L619.50 303.07L619.75 303.08L620.00 303.08L620.25 303.08L620.50 303.09L620.75 303.09L621.00 303.10L621.25 303.10L621.50 303.11L621.75 303.11L622.00 303.11L622.25 303.12L622.50 303.12L622.75 303.12L623.00 303.13L623.25 303.13L623.50 303.13L623.75 303.13L624.00 303.14L624.25 303.14L624.50 303.14L624.75 303.14L625.00 303.15L625.25 303.15L625.50 303.15L625.75 303.15L626.00 303.15L626.25 303.16L626.50 303.16L626.75 303.16L627.00 303.16L627.25 303.16L627.50 303.16L627.75 303.17L628.00 303.17L628.25 303.17L628.50 303.17L628.75 303.17L629.00 303.17L629.25 303.17L629.50 303.17L629.75 303.18L630.00 303.18L630.25 303.18L630.50 303.18L630.75 303.18L631.00 303.18L631.25 303.18L631.50 303.18L631.75 303.18L632.00 303.18L632.25 303.18L632.50 303.19L632.75 303.19L633.00 303.19L633.25 303.19L633.50 303.19L633.75 303.19L634.00 303.19L634.25 303.19L634.50 303.19L634.75 303.19L635.00 303.19L635.25 303.19L635.50 303.19L635.75 303.19L636.00 303.19L636.25 303.19L636.50 303.19L636.75 303.19L637.00 303.19L637.25 303.19L637.50 303.19L637.75 303.19L638.00 303.19L638.25 303.19L638.50 303.20L638.75 303.20L639.00 303.20L639.25 303.20L639.50 303.20L639.75 303.20L640.00 303.20L640.25 303.20L640.50 303.20L640.75 303.20L641.00 303.20L641.25 303.20L641.50 303.20L641.75 303.20L642.00 303.20L642.25 303.20L642.50 303.20L642.75 303.20L643.00 303.20L643.25 303.20L643.50 303.20L643.75 303.20L644.00 303.20L644.25 303.20L644.50 303.20L644.75 303.20L645.00 303.20L645.25 303.20L645.50 303.20L645.75 303.20L646.00 303.20L646.25 303.20L646.50 303.20L646.75 303.20L647.00 303.20L647.25 303.20L647.50 303.20L647.75 303.20L648.00 303.20L648.25 303.20L648.50 303.20L648.75 303.20L649.00 303.20L649.25 303.20L649.50 303.20L649.75 303.20L650.00 303.20L650.25 303.20L650.50 303.20L650.75 303.20L651.00 303.20L651.25 303.20L651.50 303.20L651.75 303.20L652.00 303.20L652.25 303.20L652.50 303.20L652.75 303.20L653.00 303.20L653.25 303.20L653.50 303.20L653.75 303.20L654.00 303.20L654.25 303.20L654.50 303.20L654.75 303.20L655.00 303.20L655.25 303.20L655.50 303.20L655.75 303.20L656.00 303.20L656.25 303.20L656.50 303.20L656.75 303.20L657.00 303.20L657.25 303.20L657.50 303.20L657.75 303.20L658.00 303.20L658.25 303.20L658.50 303.20L658.75 303.20L659.00 303.20L659.25 303.20L659.50 303.20L659.75 303.20L660.00 303.20L660.25 303.20L660.50 303.20L660.75 303.20L661.00 303.20L661.25 303.20L661.50 303.20L661.75 303.20L662.00 303.20L662.25 303.20L662.50 303.20L662.75 303.20L663.00 303.20L663.25 303.20L663.50 303.20L663.75 303.20L664.00 303.20L664.25 303.20L664.50 303.20L664.75 303.20L665.00 303.20L665.25 303.20L665.50 303.20L665.75 303.20L666.00 303.20L666.25 303.20L666.50 303.20L666.75 303.20L667.00 303.20L667.25 303.20L667.50 303.20L667.75 303.20L668.00 303.20L668.25 303.20L668.50 303.20L668.75 303.20L669.00 303.20L669.25 303.20L669.50 303.20L669.75 303.20L670.00 303.20L670.25 303.20L670.50 303.20L670.75 303.20L671.00 303.20L671.25 303.20L671.50 303.20L671.75 303.20L672.00 303.20L672.25 303.20L672.50 303.20L672.75 303.20L673.00 303.20L673.25 303.20L673.50 303.20L673.75 303.20L674.00 303.20L674.25 303.20L674.50 303.20L674.75 303.20L675.00 303.20L675.25 303.20L675.50 303.20L675.75 303.20L676.00 303.20L676.25 303.20L676.50 303.20L676.75 303.20L677.00 303.20L677.25 303.20L677.50 303.20L677.75 303.20L678.00 303.20L678.25 303.20L678.50 303.20L678.75 303.20L679.00 303.20L679.25 303.20L679.50 303.20L679.75 303.20L680.00 303.20L680.25 303.20L680.50 303.20L680.75 303.20L681.00 303.20L681.25 303.20L681.50 303.20L681.75 303.20L682.00 303.20L682.25 303.20L682.50 303.20L682.75 303.20L683.00 303.20L683.25 303.20L683.50 303.20L683.75 303.20L684.00 303.20L684.25 303.20L684.50 303.20L684.75 303.20L685.00 303.20L685.25 303.20L685.50 303.20L685.75 303.20L686.00 303.20L686.25 303.20L686.50 303.20L686.75 303.20L687.00 303.20L687.25 303.20L687.50 303.20L687.75 303.20L688.00 303.20L688.25 303.20L688.50 303.20L688.75 303.20L689.00 303.20L689.25 303.20L689.50 303.20L689.75 303.20" fill="none" stroke="#ffa500" stroke-width="2" stroke-dasharray="11.5 9.13" stroke-dashoffset="0.19"/>
<path d="M532.50 142.50h10.8M537.90 137.10v10.8M529.00 170.00h10.8M534.40 164.60v10.8M527.20 199.30h10.8M532.60 193.90v10.8M535.00 213.90h10.8M540.40 208.50v10.8M555.90 216.70h10.8M561.30 211.30v10.8M502.10 234.80h10.8M507.50 229.40v10.8M515.30 225.10h10.8M520.70 219.70v10.8M517.80 225.70h10.8M523.20 220.30v10.8M522.20 226.90h10.8M527.60 221.50v10.8M537.80 227.60h10.8M543.20 222.20v10.8M546.90 226.50h10.8M552.30 221.10v10.8M553.20 234.10h10.8M558.60 228.70v10.8M571.30 227.20h10.8M576.70 221.80v10.8M573.30 241.80h10.8M578.70 236.40v10.8M559.40 244.60h10.8M564.80 239.20v10.8M526.00 227.20h10.8M531.40 221.80v10.8M539.90 253.40h10.8M545.30 248.00v10.8M542.70 262.40h10.8M548.10 257.00v10.8M525.30 260.30h10.8M530.70 254.90v10.8M549.60 245.70h10.8M555.00 240.30v10.8M558.00 247.10h10.8M563.40 241.70v10.8M564.30 274.20h10.8M569.70 268.80v10.8M565.70 276.30h10.8M571.10 270.90v10.8M568.50 281.90h10.8M573.90 276.50v10.8M564.60 275.00h10.8M570.00 269.60v10.8M575.90 295.70h10.8M581.30 290.30v10.8M501.80 235.70h10.8M507.20 230.30v10.8M520.60 247.50h10.8M526.00 242.10v10.8M511.50 253.10h10.8M516.90 247.70v10.8M513.60 257.30h10.8M519.00 251.90v10.8M524.70 260.10h10.8M530.10 254.70v10.8M506.60 272.60h10.8M512.00 267.20v10.8M481.60 282.40h10.8M487.00 277.00v10.8M465.90 281.30h10.8M471.30 275.90v10.8M464.00 283.80h10.8M469.40 278.40v10.8M452.70 294.40h10.8M458.10 289.00v10.8M458.40 293.20h10.8M463.80 287.80v10.8M460.30 290.00h10.8M465.70 284.60v10.8M469.00 291.90h10.8M474.40 286.50v10.8M471.60 293.20h10.8M477.00 287.80v10.8M474.60 294.40h10.8M480.00 289.00v10.8M480.90 285.00h10.8M486.30 279.60v10.8M483.40 283.80h10.8M488.80 278.40v10.8M480.90 290.70h10.8M486.30 285.30v10.8M486.00 290.70h10.8M491.40 285.30v10.8M494.10 287.60h10.8M499.50 282.20v10.8M496.00 289.40h10.8M501.40 284.00v10.8M498.50 292.60h10.8M503.90 287.20v10.8M501.10 291.50h10.8M506.50 286.10v10.8M490.60 292.50h10.8M496.00 287.10v10.8M512.30 255.20h10.8M517.70 249.80v10.8M519.80 248.50h10.8M525.20 243.10v10.8M411.90 301.50h10.8M417.30 296.10v10.8M417.10 302.00h10.8M422.50 296.60v10.8M422.40 301.80h10.8M427.80 296.40v10.8M427.60 302.20h10.8M433.00 296.80v10.8M435.60 302.00h10.8M441.00 296.60v10.8" stroke="#ffa500" stroke-width="1.15" fill="none"/>
<path d="M527.50 129.30l10.6 10.6M527.50 139.90l10.6 -10.6M524.70 150.50l10.6 10.6M524.70 161.10l10.6 -10.6M532.20 149.70l10.6 10.6M532.20 160.30l10.6 -10.6M530.70 160.50l10.6 10.6M530.70 171.10l10.6 -10.6M535.70 159.70l10.6 10.6M535.70 170.30l10.6 -10.6M543.20 167.20l10.6 10.6M543.20 177.80l10.6 -10.6M520.60 189.00l10.6 10.6M520.60 199.60l10.6 -10.6M523.70 191.20l10.6 10.6M523.70 201.80l10.6 -10.6M540.50 185.20l10.6 10.6M540.50 195.80l10.6 -10.6M545.50 185.10l10.6 10.6M545.50 195.70l10.6 -10.6M550.50 190.70l10.6 10.6M550.50 201.30l10.6 -10.6M540.70 198.50l10.6 10.6M540.70 209.10l10.6 -10.6M547.20 205.70l10.6 10.6M547.20 216.30l10.6 -10.6M517.50 208.50l10.6 10.6M517.50 219.10l10.6 -10.6M509.80 235.40l10.6 10.6M509.80 246.00l10.6 -10.6M515.40 234.80l10.6 10.6M515.40 245.40l10.6 -10.6M553.50 212.30l10.6 10.6M553.50 222.90l10.6 -10.6M503.90 237.40l10.6 10.6M503.90 248.00l10.6 -10.6M513.00 235.30l10.6 10.6M513.00 245.90l10.6 -10.6M501.60 249.20l10.6 10.6M501.60 259.80l10.6 -10.6M510.20 254.20l10.6 10.6M510.20 264.80l10.6 -10.6M506.90 262.20l10.6 10.6M506.90 272.80l10.6 -10.6M495.70 275.50l10.6 10.6M495.70 286.10l10.6 -10.6M498.60 261.10l10.6 10.6M498.60 271.70l10.6 -10.6M490.20 291.90l10.6 10.6M490.20 302.50l10.6 -10.6M556.00 289.10l10.6 10.6M556.00 299.70l10.6 -10.6M555.30 292.90l10.6 10.6M555.30 303.50l10.6 -10.6" stroke="#0000ff" stroke-width="1.1" fill="none"/>
<path d="M385.72 297.90l10.6 10.6M385.72 308.50l10.6 -10.6M388.22 297.90l10.6 10.6M388.22 308.50l10.6 -10.6M390.71 297.90l10.6 10.6M390.71 308.50l10.6 -10.6M393.21 297.90l10.6 10.6M393.21 308.50l10.6 -10.6M395.71 297.90l10.6 10.6M395.71 308.50l10.6 -10.6M398.20 297.90l10.6 10.6M398.20 308.50l10.6 -10.6M400.70 297.90l10.6 10.6M400.70 308.50l10.6 -10.6M403.19 297.90l10.6 10.6M403.19 308.50l10.6 -10.6M405.69 297.90l10.6 10.6M405.69 308.50l10.6 -10.6M408.19 297.90l10.6 10.6M408.19 308.50l10.6 -10.6M410.68 297.90l10.6 10.6M410.68 308.50l10.6 -10.6M413.18 297.90l10.6 10.6M413.18 308.50l10.6 -10.6M415.67 297.90l10.6 10.6M415.67 308.50l10.6 -10.6M418.17 297.90l10.6 10.6M418.17 308.50l10.6 -10.6M420.67 297.90l10.6 10.6M420.67 308.50l10.6 -10.6M423.16 297.90l10.6 10.6M423.16 308.50l10.6 -10.6M425.66 297.90l10.6 10.6M425.66 308.50l10.6 -10.6M428.16 297.90l10.6 10.6M428.16 308.50l10.6 -10.6M430.65 297.90l10.6 10.6M430.65 308.50l10.6 -10.6M433.15 297.90l10.6 10.6M433.15 308.50l10.6 -10.6M435.64 297.90l10.6 10.6M435.64 308.50l10.6 -10.6M438.14 297.90l10.6 10.6M438.14 308.50l10.6 -10.6M440.64 297.90l10.6 10.6M440.64 308.50l10.6 -10.6M443.13 297.90l10.6 10.6M443.13 308.50l10.6 -10.6M445.63 297.90l10.6 10.6M445.63 308.50l10.6 -10.6M448.12 297.90l10.6 10.6M448.12 308.50l10.6 -10.6M450.62 297.90l10.6 10.6M450.62 308.50l10.6 -10.6M453.12 297.90l10.6 10.6M453.12 308.50l10.6 -10.6M455.61 297.90l10.6 10.6M455.61 308.50l10.6 -10.6M458.11 297.90l10.6 10.6M458.11 308.50l10.6 -10.6M460.60 297.90l10.6 10.6M460.60 308.50l10.6 -10.6M463.10 297.90l10.6 10.6M463.10 308.50l10.6 -10.6M465.60 297.90l10.6 10.6M465.60 308.50l10.6 -10.6M468.09 297.90l10.6 10.6M468.09 308.50l10.6 -10.6M470.59 297.90l10.6 10.6M470.59 308.50l10.6 -10.6M473.09 297.90l10.6 10.6M473.09 308.50l10.6 -10.6M475.58 297.90l10.6 10.6M475.58 308.50l10.6 -10.6M478.08 297.90l10.6 10.6M478.08 308.50l10.6 -10.6M480.57 297.90l10.6 10.6M480.57 308.50l10.6 -10.6M483.07 297.90l10.6 10.6M483.07 308.50l10.6 -10.6M485.57 297.90l10.6 10.6M485.57 308.50l10.6 -10.6M488.06 297.90l10.6 10.6M488.06 308.50l10.6 -10.6M490.56 297.90l10.6 10.6M490.56 308.50l10.6 -10.6M493.05 297.90l10.6 10.6M493.05 308.50l10.6 -10.6M495.55 297.90l10.6 10.6M495.55 308.50l10.6 -10.6M557.95 297.90l10.6 10.6M557.95 308.50l10.6 -10.6M560.45 297.90l10.6 10.6M560.45 308.50l10.6 -10.6M562.95 297.90l10.6 10.6M562.95 308.50l10.6 -10.6M565.44 297.90l10.6 10.6M565.44 308.50l10.6 -10.6M567.94 297.90l10.6 10.6M567.94 308.50l10.6 -10.6M570.43 297.90l10.6 10.6M570.43 308.50l10.6 -10.6M572.93 297.90l10.6 10.6M572.93 308.50l10.6 -10.6M575.43 297.90l10.6 10.6M575.43 308.50l10.6 -10.6M577.92 297.90l10.6 10.6M577.92 308.50l10.6 -10.6M580.42 297.90l10.6 10.6M580.42 308.50l10.6 -10.6M582.91 297.90l10.6 10.6M582.91 308.50l10.6 -10.6M585.41 297.90l10.6 10.6M585.41 308.50l10.6 -10.6M587.91 297.90l10.6 10.6M587.91 308.50l10.6 -10.6M590.40 297.90l10.6 10.6M590.40 308.50l10.6 -10.6M592.90 297.90l10.6 10.6M592.90 308.50l10.6 -10.6M595.40 297.90l10.6 10.6M595.40 308.50l10.6 -10.6M597.89 297.90l10.6 10.6M597.89 308.50l10.6 -10.6M600.39 297.90l10.6 10.6M600.39 308.50l10.6 -10.6M602.88 297.90l10.6 10.6M602.88 308.50l10.6 -10.6M605.38 297.90l10.6 10.6M605.38 308.50l10.6 -10.6M607.88 297.90l10.6 10.6M607.88 308.50l10.6 -10.6M610.37 297.90l10.6 10.6M610.37 308.50l10.6 -10.6M612.87 297.90l10.6 10.6M612.87 308.50l10.6 -10.6M615.36 297.90l10.6 10.6M615.36 308.50l10.6 -10.6M617.86 297.90l10.6 10.6M617.86 308.50l10.6 -10.6M620.36 297.90l10.6 10.6M620.36 308.50l10.6 -10.6M622.85 297.90l10.6 10.6M622.85 308.50l10.6 -10.6M625.35 297.90l10.6 10.6M625.35 308.50l10.6 -10.6M627.84 297.90l10.6 10.6M627.84 308.50l10.6 -10.6M630.34 297.90l10.6 10.6M630.34 308.50l10.6 -10.6M632.84 297.90l10.6 10.6M632.84 308.50l10.6 -10.6M635.33 297.90l10.6 10.6M635.33 308.50l10.6 -10.6M637.83 297.90l10.6 10.6M637.83 308.50l10.6 -10.6M640.33 297.90l10.6 10.6M640.33 308.50l10.6 -10.6M642.82 297.90l10.6 10.6M642.82 308.50l10.6 -10.6M645.32 297.90l10.6 10.6M645.32 308.50l10.6 -10.6M647.81 297.90l10.6 10.6M647.81 308.50l10.6 -10.6M650.31 297.90l10.6 10.6M650.31 308.50l10.6 -10.6M652.81 297.90l10.6 10.6M652.81 308.50l10.6 -10.6M655.30 297.90l10.6 10.6M655.30 308.50l10.6 -10.6M657.80 297.90l10.6 10.6M657.80 308.50l10.6 -10.6M660.29 297.90l10.6 10.6M660.29 308.50l10.6 -10.6M662.79 297.90l10.6 10.6M662.79 308.50l10.6 -10.6M665.29 297.90l10.6 10.6M665.29 308.50l10.6 -10.6M667.78 297.90l10.6 10.6M667.78 308.50l10.6 -10.6M670.28 297.90l10.6 10.6M670.28 308.50l10.6 -10.6M672.78 297.90l10.6 10.6M672.78 308.50l10.6 -10.6M675.27 297.90l10.6 10.6M675.27 308.50l10.6 -10.6" stroke="#0000ff" stroke-width="1.05" fill="none"/>
<path d="M391.00 303.20L391.25 303.20L391.50 303.20L391.75 303.20L392.00 303.20L392.25 303.20L392.50 303.20L392.75 303.20L393.00 303.20L393.25 303.20L393.50 303.20L393.75 303.20L394.00 303.20L394.25 303.20L394.50 303.20L394.75 303.20L395.00 303.20L395.25 303.20L395.50 303.20L395.75 303.20L396.00 303.20L396.25 303.20L396.50 303.20L396.75 303.20L397.00 303.20L397.25 303.20L397.50 303.20L397.75 303.20L398.00 303.20L398.25 303.20L398.50 303.20L398.75 303.20L399.00 303.20L399.25 303.20L399.50 303.20L399.75 303.20L400.00 303.20L400.25 303.20L400.50 303.20L400.75 303.20L401.00 303.20L401.25 303.20L401.50 303.20L401.75 303.20L402.00 303.20L402.25 303.20L402.50 303.20L402.75 303.20L403.00 303.20L403.25 303.20L403.50 303.20L403.75 303.20L404.00 303.20L404.25 303.20L404.50 303.20L404.75 303.20L405.00 303.20L405.25 303.20L405.50 303.20L405.75 303.20L406.00 303.20L406.25 303.20L406.50 303.20L406.75 303.20L407.00 303.20L407.25 303.20L407.50 303.20L407.75 303.20L408.00 303.20L408.25 303.20L408.50 303.20L408.75 303.20L409.00 303.20L409.25 303.20L409.50 303.20L409.75 303.20L410.00 303.20L410.25 303.20L410.50 303.20L410.75 303.20L411.00 303.20L411.25 303.20L411.50 303.20L411.75 303.20L412.00 303.20L412.25 303.20L412.50 303.20L412.75 303.20L413.00 303.20L413.25 303.20L413.50 303.20L413.75 303.20L414.00 303.20L414.25 303.20L414.50 303.20L414.75 303.20L415.00 303.20L415.25 303.20L415.50 303.20L415.75 303.20L416.00 303.20L416.25 303.20L416.50 303.20L416.75 303.20L417.00 303.20L417.25 303.20L417.50 303.20L417.75 303.20L418.00 303.20L418.25 303.20L418.50 303.20L418.75 303.20L419.00 303.20L419.25 303.20L419.50 303.20L419.75 303.20L420.00 303.20L420.25 303.20L420.50 303.20L420.75 303.20L421.00 303.20L421.25 303.20L421.50 303.20L421.75 303.20L422.00 303.20L422.25 303.20L422.50 303.20L422.75 303.20L423.00 303.20L423.25 303.20L423.50 303.20L423.75 303.20L424.00 303.20L424.25 303.20L424.50 303.20L424.75 303.20L425.00 303.20L425.25 303.20L425.50 303.20L425.75 303.20L426.00 303.20L426.25 303.20L426.50 303.20L426.75 303.20L427.00 303.20L427.25 303.20L427.50 303.20L427.75 303.20L428.00 303.20L428.25 303.20L428.50 303.20L428.75 303.20L429.00 303.20L429.25 303.20L429.50 303.20L429.75 303.20L430.00 303.20L430.25 303.20L430.50 303.20L430.75 303.20L431.00 303.20L431.25 303.20L431.50 303.20L431.75 303.20L432.00 303.20L432.25 303.20L432.50 303.20L432.75 303.20L433.00 303.20L433.25 303.20L433.50 303.20L433.75 303.20L434.00 303.20L434.25 303.20L434.50 303.20L434.75 303.20L435.00 303.20L435.25 303.20L435.50 303.20L435.75 303.20L436.00 303.20L436.25 303.20L436.50 303.20L436.75 303.20L437.00 303.20L437.25 303.20L437.50 303.20L437.75 303.20L438.00 303.20L438.25 303.20L438.50 303.20L438.75 303.20L439.00 303.20L439.25 303.20L439.50 303.20L439.75 303.20L440.00 303.20L440.25 303.20L440.50 303.20L440.75 303.20L441.00 303.20L441.25 303.20L441.50 303.20L441.75 303.20L442.00 303.20L442.25 303.20L442.50 303.20L442.75 303.20L443.00 303.20L443.25 303.20L443.50 303.20L443.75 303.20L444.00 303.20L444.25 303.20L444.50 303.20L444.75 303.20L445.00 303.20L445.25 303.20L445.50 303.20L445.75 303.20L446.00 303.20L446.25 303.20L446.50 303.20L446.75 303.20L447.00 303.20L447.25 303.20L447.50 303.20L447.75 303.20L448.00 303.20L448.25 303.20L448.50 303.20L448.75 303.20L449.00 303.20L449.25 303.20L449.50 303.20L449.75 303.20L450.00 303.20L450.25 303.20L450.50 303.20L450.75 303.20L451.00 303.20L451.25 303.20L451.50 303.20L451.75 303.20L452.00 303.20L452.25 303.20L452.50 303.20L452.75 303.20L453.00 303.20L453.25 303.20L453.50 303.20L453.75 303.20L454.00 303.20L454.25 303.20L454.50 303.20L454.75 303.20L455.00 303.20L455.25 303.20L455.50 303.20L455.75 303.20L456.00 303.20L456.25 303.20L456.50 303.20L456.75 303.20L457.00 303.20L457.25 303.20L457.50 303.20L457.75 303.20L458.00 303.20L458.25 303.20L458.50 303.20L458.75 303.20L459.00 303.20L459.25 303.20L459.50 303.20L459.75 303.20L460.00 303.20L460.25 303.20L460.50 303.20L460.75 303.20L461.00 303.20L461.25 303.20L461.50 303.20L461.75 303.20L462.00 303.20L462.25 303.20L462.50 303.20L462.75 303.20L463.00 303.20L463.25 303.20L463.50 303.20L463.75 303.20L464.00 303.20L464.25 303.20L464.50 303.20L464.75 303.20L465.00 303.20L465.25 303.20L465.50 303.20L465.75 303.20L466.00 303.20L466.25 303.20L466.50 303.20L466.75 303.20L467.00 303.20L467.25 303.20L467.50 303.20L467.75 303.20L468.00 303.20L468.25 303.20L468.50 303.20L468.75 303.20L469.00 303.20L469.25 303.20L469.50 303.20L469.75 303.20L470.00 303.20L470.25 303.20L470.50 303.20L470.75 303.20L471.00 303.20L471.25 303.20L471.50 303.20L471.75 303.20L472.00 303.20L472.25 303.20L472.50 303.20L472.75 303.20L473.00 303.20L473.25 303.20L473.50 303.20L473.75 303.20L474.00 303.20L474.25 303.20L474.50 303.20L474.75 303.20L475.00 303.20L475.25 303.20L475.50 303.20L475.75 303.20L476.00 303.20L476.25 303.20L476.50 303.20L476.75 303.19L477.00 303.19L477.25 303.19L477.50 303.19L477.75 303.19L478.00 303.19L478.25 303.19L478.50 303.19L478.75 303.19L479.00 303.19L479.25 303.19L479.50 303.19L479.75 303.18L480.00 303.18L480.25 303.18L480.50 303.18L480.75 303.18L481.00 303.18L481.25 303.17L481.50 303.17L481.75 303.17L482.00 303.17L482.25 303.16L482.50 303.16L482.75 303.16L483.00 303.15L483.25 303.15L483.50 303.14L483.75 303.14L484.00 303.13L484.25 303.13L484.50 303.12L484.75 303.12L485.00 303.11L485.25 303.10L485.50 303.09L485.75 303.08L486.00 303.07L486.25 303.06L486.50 303.05L486.75 303.04L487.00 303.03L487.25 303.02L487.50 303.00L487.75 302.99L488.00 302.97L488.25 302.95L488.50 302.93L488.75 302.91L489.00 302.89L489.25 302.87L489.50 302.84L489.75 302.82L490.00 302.79L490.25 302.76L490.50 302.73L490.75 302.69L491.00 302.65L491.25 302.62L491.50 302.57L491.75 302.53L492.00 302.48L492.25 302.43L492.50 302.38L492.75 302.32L493.00 302.26L493.25 302.20L493.50 302.13L493.75 302.06L494.00 301.99L494.25 301.90L494.50 301.82L494.75 301.73L495.00 301.63L495.25 301.53L495.50 301.43L495.75 301.31L496.00 301.19L496.25 301.07L496.50 300.94L496.75 300.80L497.00 300.65L497.25 300.49L497.50 300.33L497.75 300.16L498.00 299.98L498.25 299.79L498.50 299.59L498.75 299.38L499.00 299.15L499.25 298.92L499.50 298.68L499.75 298.42L500.00 298.15L500.25 297.87L500.50 297.58L500.75 297.27L501.00 296.95L501.25 296.61L501.50 296.26L501.75 295.89L502.00 295.51L502.25 295.11L502.50 294.69L502.75 294.25L503.00 293.80L503.25 293.32L503.50 292.83L503.75 292.31L504.00 291.78L504.25 291.22L504.50 290.64L504.75 290.04L505.00 289.42L505.25 288.77L505.50 288.10L505.75 287.41L506.00 286.69L506.25 285.94L506.50 285.16L506.75 284.36L507.00 283.54L507.25 282.68L507.50 281.80L507.75 280.88L508.00 279.94L508.25 278.97L508.50 277.97L508.75 276.94L509.00 275.87L509.25 274.78L509.50 273.65L509.75 272.49L510.00 271.30L510.25 270.08L510.50 268.82L510.75 267.53L511.00 266.21L511.25 264.85L511.50 263.47L511.75 262.04L512.00 260.59L512.25 259.10L512.50 257.58L512.75 256.03L513.00 254.44L513.25 252.82L513.50 251.17L513.75 249.48L514.00 247.77L514.25 246.02L514.50 244.24L514.75 242.43L515.00 240.60L515.25 238.73L515.50 236.84L515.75 234.92L516.00 232.97L516.25 230.99L516.50 228.99L516.75 226.97L517.00 224.93L517.25 222.86L517.50 220.77L517.75 218.66L518.00 216.54L518.25 214.40L518.50 212.24L518.75 210.07L519.00 207.88L519.25 205.69L519.50 203.49L519.75 201.27L520.00 199.06L520.25 196.84L520.50 194.61L520.75 192.39L521.00 190.16L521.25 187.94L521.50 185.73L521.75 183.52L522.00 181.32L522.25 179.13L522.50 176.95L522.75 174.79L523.00 172.64L523.25 170.52L523.50 168.41L523.75 166.33L524.00 164.27L524.25 162.24L524.50 160.24L524.75 158.28L525.00 156.34L525.25 154.44L525.50 152.58L525.75 150.76L526.00 148.98L526.25 147.24L526.50 145.55L526.75 143.91L527.00 142.32L527.25 140.77L527.50 139.28L527.75 137.85L528.00 136.47L528.25 135.15L528.50 133.89L528.75 132.69L529.00 131.55L529.25 130.47L529.50 129.47L529.75 128.52L530.00 127.65L530.25 126.84L530.50 126.10L530.75 125.44L531.00 124.84L531.25 124.32L531.50 123.87L531.75 123.49L532.00 123.18L532.25 122.95L532.50 122.80L532.75 122.71L533.00 122.71L533.25 122.77L533.50 122.91L533.75 123.13L534.00 123.42L534.25 123.78L534.50 124.22L534.75 124.73L535.00 125.31L535.25 125.96L535.50 126.69L535.75 127.48L536.00 128.34L536.25 129.27L536.50 130.27L536.75 131.33L537.00 132.45L537.25 133.64L537.50 134.89L537.75 136.20L538.00 137.57L538.25 138.99L538.50 140.47L538.75 142.00L539.00 143.59L539.25 145.22L539.50 146.90L539.75 148.63L540.00 150.40L540.25 152.21L540.50 154.07L540.75 155.96L541.00 157.89L541.25 159.85L541.50 161.84L541.75 163.86L542.00 165.92L542.25 167.99L542.50 170.09L542.75 172.22L543.00 174.36L543.25 176.52L543.50 178.69L543.75 180.88L544.00 183.08L544.25 185.28L544.50 187.50L544.75 189.72L545.00 191.94L545.25 194.17L545.50 196.39L545.75 198.61L546.00 200.83L546.25 203.04L546.50 205.25L546.75 207.45L547.00 209.63L547.25 211.81L547.50 213.97L547.75 216.11L548.00 218.24L548.25 220.35L548.50 222.44L548.75 224.51L549.00 226.56L549.25 228.59L549.50 230.60L549.75 232.57L550.00 234.53L550.25 236.46L550.50 238.35L550.75 240.23L551.00 242.07L551.25 243.88L551.50 245.67L551.75 247.42L552.00 249.14L552.25 250.83L552.50 252.49L552.75 254.12L553.00 255.71L553.25 257.27L553.50 258.80L553.75 260.29L554.00 261.76L554.25 263.18L554.50 264.58L554.75 265.94L555.00 267.27L555.25 268.57L555.50 269.83L555.75 271.06L556.00 272.26L556.25 273.42L556.50 274.55L556.75 275.65L557.00 276.72L557.25 277.76L557.50 278.77L557.75 279.75L558.00 280.70L558.25 281.62L558.50 282.51L558.75 283.37L559.00 284.20L559.25 285.01L559.50 285.79L559.75 286.54L560.00 287.26L560.25 287.97L560.50 288.64L560.75 289.29L561.00 289.92L561.25 290.53L561.50 291.11L561.75 291.67L562.00 292.21L562.25 292.73L562.50 293.22L562.75 293.70L563.00 294.16L563.25 294.60L563.50 295.02L563.75 295.43L564.00 295.82L564.25 296.19L564.50 296.54L564.75 296.88L565.00 297.21L565.25 297.52L565.50 297.82L565.75 298.10L566.00 298.37L566.25 298.63L566.50 298.87L566.75 299.11L567.00 299.33L567.25 299.54L567.50 299.75L567.75 299.94L568.00 300.12L568.25 300.30L568.50 300.46L568.75 300.62L569.00 300.77L569.25 300.91L569.50 301.04L569.75 301.17L570.00 301.29L570.25 301.40L570.50 301.51L570.75 301.61L571.00 301.71L571.25 301.80L571.50 301.89L571.75 301.97L572.00 302.05L572.25 302.12L572.50 302.19L572.75 302.25L573.00 302.31L573.25 302.37L573.50 302.42L573.75 302.47L574.00 302.52L574.25 302.57L574.50 302.61L574.75 302.65L575.00 302.68L575.25 302.72L575.50 302.75L575.75 302.78L576.00 302.81L576.25 302.84L576.50 302.86L576.75 302.89L577.00 302.91L577.25 302.93L577.50 302.95L577.75 302.97L578.00 302.98L578.25 303.00L578.50 303.01L578.75 303.03L579.00 303.04L579.25 303.05L579.50 303.06L579.75 303.07L580.00 303.08L580.25 303.09L580.50 303.10L580.75 303.11L581.00 303.11L581.25 303.12L581.50 303.13L581.75 303.13L582.00 303.14L582.25 303.14L582.50 303.15L582.75 303.15L583.00 303.15L583.25 303.16L583.50 303.16L583.75 303.16L584.00 303.17L584.25 303.17L584.50 303.17L584.75 303.18L585.00 303.18L585.25 303.18L585.50 303.18L585.75 303.18L586.00 303.18L586.25 303.19L586.50 303.19L586.75 303.19L587.00 303.19L587.25 303.19L587.50 303.19L587.75 303.19L588.00 303.19L588.25 303.19L588.50 303.19L588.75 303.19L589.00 303.19L589.25 303.20L589.50 303.20L589.75 303.20L590.00 303.20L590.25 303.20L590.50 303.20L590.75 303.20L591.00 303.20L591.25 303.20L591.50 303.20L591.75 303.20L592.00 303.20L592.25 303.20L592.50 303.20L592.75 303.20L593.00 303.20L593.25 303.20L593.50 303.20L593.75 303.20L594.00 303.20L594.25 303.20L594.50 303.20L594.75 303.20L595.00 303.20L595.25 303.20L595.50 303.20L595.75 303.20L596.00 303.20L596.25 303.20L596.50 303.20L596.75 303.20L597.00 303.20L597.25 303.20L597.50 303.20L597.75 303.20L598.00 303.20L598.25 303.20L598.50 303.20L598.75 303.20L599.00 303.20L599.25 303.20L599.50 303.20L599.75 303.20L600.00 303.20L600.25 303.20L600.50 303.20L600.75 303.20L601.00 303.20L601.25 303.20L601.50 303.20L601.75 303.20L602.00 303.20L602.25 303.20L602.50 303.20L602.75 303.20L603.00 303.20L603.25 303.20L603.50 303.20L603.75 303.20L604.00 303.20L604.25 303.20L604.50 303.20L604.75 303.20L605.00 303.20L605.25 303.20L605.50 303.20L605.75 303.20L606.00 303.20L606.25 303.20L606.50 303.20L606.75 303.20L607.00 303.20L607.25 303.20L607.50 303.20L607.75 303.20L608.00 303.20L608.25 303.20L608.50 303.20L608.75 303.20L609.00 303.20L609.25 303.20L609.50 303.20L609.75 303.20L610.00 303.20L610.25 303.20L610.50 303.20L610.75 303.20L611.00 303.20L611.25 303.20L611.50 303.20L611.75 303.20L612.00 303.20L612.25 303.20L612.50 303.20L612.75 303.20L613.00 303.20L613.25 303.20L613.50 303.20L613.75 303.20L614.00 303.20L614.25 303.20L614.50 303.20L614.75 303.20L615.00 303.20L615.25 303.20L615.50 303.20L615.75 303.20L616.00 303.20L616.25 303.20L616.50 303.20L616.75 303.20L617.00 303.20L617.25 303.20L617.50 303.20L617.75 303.20L618.00 303.20L618.25 303.20L618.50 303.20L618.75 303.20L619.00 303.20L619.25 303.20L619.50 303.20L619.75 303.20L620.00 303.20L620.25 303.20L620.50 303.20L620.75 303.20L621.00 303.20L621.25 303.20L621.50 303.20L621.75 303.20L622.00 303.20L622.25 303.20L622.50 303.20L622.75 303.20L623.00 303.20L623.25 303.20L623.50 303.20L623.75 303.20L624.00 303.20L624.25 303.20L624.50 303.20L624.75 303.20L625.00 303.20L625.25 303.20L625.50 303.20L625.75 303.20L626.00 303.20L626.25 303.20L626.50 303.20L626.75 303.20L627.00 303.20L627.25 303.20L627.50 303.20L627.75 303.20L628.00 303.20L628.25 303.20L628.50 303.20L628.75 303.20L629.00 303.20L629.25 303.20L629.50 303.20L629.75 303.20L630.00 303.20L630.25 303.20L630.50 303.20L630.75 303.20L631.00 303.20L631.25 303.20L631.50 303.20L631.75 303.20L632.00 303.20L632.25 303.20L632.50 303.20L632.75 303.20L633.00 303.20L633.25 303.20L633.50 303.20L633.75 303.20L634.00 303.20L634.25 303.20L634.50 303.20L634.75 303.20L635.00 303.20L635.25 303.20L635.50 303.20L635.75 303.20L636.00 303.20L636.25 303.20L636.50 303.20L636.75 303.20L637.00 303.20L637.25 303.20L637.50 303.20L637.75 303.20L638.00 303.20L638.25 303.20L638.50 303.20L638.75 303.20L639.00 303.20L639.25 303.20L639.50 303.20L639.75 303.20L640.00 303.20L640.25 303.20L640.50 303.20L640.75 303.20L641.00 303.20L641.25 303.20L641.50 303.20L641.75 303.20L642.00 303.20L642.25 303.20L642.50 303.20L642.75 303.20L643.00 303.20L643.25 303.20L643.50 303.20L643.75 303.20L644.00 303.20L644.25 303.20L644.50 303.20L644.75 303.20L645.00 303.20L645.25 303.20L645.50 303.20L645.75 303.20L646.00 303.20L646.25 303.20L646.50 303.20L646.75 303.20L647.00 303.20L647.25 303.20L647.50 303.20L647.75 303.20L648.00 303.20L648.25 303.20L648.50 303.20L648.75 303.20L649.00 303.20L649.25 303.20L649.50 303.20L649.75 303.20L650.00 303.20L650.25 303.20L650.50 303.20L650.75 303.20L651.00 303.20L651.25 303.20L651.50 303.20L651.75 303.20L652.00 303.20L652.25 303.20L652.50 303.20L652.75 303.20L653.00 303.20L653.25 303.20L653.50 303.20L653.75 303.20L654.00 303.20L654.25 303.20L654.50 303.20L654.75 303.20L655.00 303.20L655.25 303.20L655.50 303.20L655.75 303.20L656.00 303.20L656.25 303.20L656.50 303.20L656.75 303.20L657.00 303.20L657.25 303.20L657.50 303.20L657.75 303.20L658.00 303.20L658.25 303.20L658.50 303.20L658.75 303.20L659.00 303.20L659.25 303.20L659.50 303.20L659.75 303.20L660.00 303.20L660.25 303.20L660.50 303.20L660.75 303.20L661.00 303.20L661.25 303.20L661.50 303.20L661.75 303.20L662.00 303.20L662.25 303.20L662.50 303.20L662.75 303.20L663.00 303.20L663.25 303.20L663.50 303.20L663.75 303.20L664.00 303.20L664.25 303.20L664.50 303.20L664.75 303.20L665.00 303.20L665.25 303.20L665.50 303.20L665.75 303.20L666.00 303.20L666.25 303.20L666.50 303.20L666.75 303.20L667.00 303.20L667.25 303.20L667.50 303.20L667.75 303.20L668.00 303.20L668.25 303.20L668.50 303.20L668.75 303.20L669.00 303.20L669.25 303.20L669.50 303.20L669.75 303.20L670.00 303.20L670.25 303.20L670.50 303.20L670.75 303.20L671.00 303.20L671.25 303.20L671.50 303.20L671.75 303.20L672.00 303.20L672.25 303.20L672.50 303.20L672.75 303.20L673.00 303.20L673.25 303.20L673.50 303.20L673.75 303.20L674.00 303.20L674.25 303.20L674.50 303.20L674.75 303.20L675.00 303.20L675.25 303.20L675.50 303.20L675.75 303.20L676.00 303.20L676.25 303.20L676.50 303.20L676.75 303.20L677.00 303.20L677.25 303.20L677.50 303.20L677.75 303.20L678.00 303.20L678.25 303.20L678.50 303.20L678.75 303.20L679.00 303.20L679.25 303.20L679.50 303.20L679.75 303.20L680.00 303.20L680.25 303.20L680.50 303.20L680.75 303.20" fill="none" stroke="#0000ff" stroke-width="2.0"/>
<rect x="391.1" y="1.1" width="289.9" height="302.09999999999997" fill="none" stroke="#000" stroke-width="2.1"/>
<text x="419.2" y="333.1" font-family="Liberation Serif" font-size="22.7" text-anchor="middle">-8</text>
<text x="448.5" y="333.1" font-family="Liberation Serif" font-size="22.7" text-anchor="middle">-6</text>
<text x="477.8" y="333.1" font-family="Liberation Serif" font-size="22.7" text-anchor="middle">-4</text>
<text x="507.1" y="333.1" font-family="Liberation Serif" font-size="22.7" text-anchor="middle">-2</text>
<text x="538.1" y="333.1" font-family="Liberation Serif" font-size="22.7" text-anchor="middle">0</text>
<text x="567.4" y="333.1" font-family="Liberation Serif" font-size="22.7" text-anchor="middle">2</text>
<text x="596.7" y="333.1" font-family="Liberation Serif" font-size="22.7" text-anchor="middle">4</text>
<text x="626.0" y="333.1" font-family="Liberation Serif" font-size="22.7" text-anchor="middle">6</text>
<text x="655.3" y="333.1" font-family="Liberation Serif" font-size="22.7" text-anchor="middle">8</text>
<text x="377.6" y="311.2" font-family="Liberation Serif" font-size="22.7" text-anchor="end">0</text>
<text x="377.6" y="268.0" font-family="Liberation Serif" font-size="22.7" text-anchor="end">2</text>
<text x="377.6" y="224.8" font-family="Liberation Serif" font-size="22.7" text-anchor="end">4</text>
<text x="377.6" y="181.7" font-family="Liberation Serif" font-size="22.7" text-anchor="end">6</text>
<text x="377.6" y="138.5" font-family="Liberation Serif" font-size="22.7" text-anchor="end">8</text>
<text x="377.6" y="95.3" font-family="Liberation Serif" font-size="22.7" text-anchor="end">10</text>
<text x="506.2" y="354.7" font-family="Liberation Serif" font-size="23.8">ζ<tspan dx="6.0" font-size="23.3">(μm)</tspan></text>
<text transform="translate(362.8 153.2) rotate(-90)" font-family="Liberation Serif" font-size="22.7" text-anchor="middle"><tspan font-style="italic">P</tspan>(<tspan font-size="24">ζ</tspan>) (%)</text>
<path d="M420.00 193.40h10.8M425.40 188.00v10.8" stroke="#ffa500" stroke-width="1.15"/>
<path d="M420.10 211.20l10.6 10.6M420.10 221.80l10.6 -10.6" stroke="#0000ff" stroke-width="1.15"/>
<text x="448" y="200.1" font-family="Liberation Serif" font-size="18.7">ABS</text>
<text x="448" y="222.7" font-family="Liberation Serif" font-size="18.7">PTFE</text>
<rect x="583.9" y="23.8" width="77.2" height="77.5" fill="url(#grid)"/>
<circle cx="622.5" cy="62.8" r="32.2" fill="url(#sphP)"/>
<circle cx="618.7" cy="61.3" r="3" fill="url(#spec)"/><circle cx="628.0" cy="61.6" r="3" fill="url(#spec)"/><circle cx="622.5" cy="42.8" r="6" fill="url(#spec)"/>
<rect x="583.9" y="23.8" width="77.2" height="77.5" fill="none" stroke="#0000ff" stroke-width="1.8"/>
<text x="598.6" y="45" font-family="Liberation Serif" font-size="22.5">PTFE</text>
<rect x="583.9" y="123.7" width="77.2" height="77.5" fill="url(#grid)"/>
<circle cx="622" cy="164" r="32.3" fill="url(#sphA)"/>
<circle cx="618.2" cy="162.5" r="3" fill="url(#spec)"/><circle cx="627.5" cy="162.8" r="3" fill="url(#spec)"/><circle cx="622.0" cy="144.0" r="6" fill="url(#spec)"/>
<rect x="583.9" y="123.7" width="77.2" height="77.5" fill="none" stroke="#ffa500" stroke-width="1.8"/>
<text x="606.3" y="140.9" font-family="Liberation Serif" font-size="22.2">ABS</text>
<rect x="442.9" y="22.6" width="110.80000000000007" height="62.35" fill="#fff"/>
<path d="M442.9 79.50h10.3M553.7 79.50h-10.3M442.9 54.10h10.3M553.7 54.10h-10.3M442.9 28.70h10.3M553.7 28.70h-10.3M498.30 22.6v8.5M498.30 84.95v-8.5" stroke="#000" stroke-width="1.2" fill="none"/>
<path d="M443.5 44.6L447 45L449 47.5L450.5 50.5L452 52L454 55L456 58L457.5 59.5L459 59L461 61L462 64L463 68L463.5 70.5L464.5 67L466 62L467 58L468 55L469 53.5L471 53L473 53.8L476 54L478 54.5L480 55.5L481.5 55.5L483 57L485 58L487 59L488 56.5L489 52L490 52.5L491 51.8L492 50.5L493 49.5L494 48.5L495 48.3L497 48.3L498 48L500 48L501.5 47.5L502.5 45.5L503.5 45L505 45L506 46L507 47.5L508 50L509 52.5L510 54L511 54.5L512 55L513 55L514 54.5L515 55.5L516 57.5L517 57.5L518 58.5L519 57L519.5 54.5L520 52.5L521 51L522 50.5L523 51L524 51.5L525 51.5L526 50.5L528 51.5L529 53.5L530 55.5L531 60L532 64L533 67L533.8 69L534.5 79.5L535.3 71L536 68L537 65L538 62L539 59L540 57L541.5 56L542.5 59.5L543 60L543.5 58L544.5 56.5L545 55.5L546 53L547 50L548 48.5L549 47.5L550 47.5L552 47L553.5 46.5" fill="none" stroke="#ffa500" stroke-width="1.4" stroke-linejoin="round"/>
<path d="M443.5 53L445 57L445.5 58L446 54.5L447 53L448 51L449 49.5L450 51L451.5 52L453 54L454 55L455 54.5L456 57L457 59.5L458 59.5L458.5 56L459 51.5L460 53L461 55L462 53L463 54.5L464 56L465 55L466 53L467 54.5L468 55L469 54L470 53.5L472 53.8L473.5 52.5L475 51.5L476.5 51L478 51.5L479 54L480 56L481 56L482 56.5L483.5 57L485 57.5L486.5 57.5L488 56.5L489.5 55.5L490 55.5L491 57L492 59L493 59.5L494 59.5L495 60.5L496 59L497 55.5L498 54.5L499 55.5L500 54.5L501 55L502 55.5L503 54L504 52.5L505 51.5L506 50.5L507 49.5L508 49L510 49.5L511 50.5L512 51L513 52.5L514 54L515 55.5L516 57L517 58.5L518 59L519 58L520 56L520.5 52.5L521 51.5L522 51L522.5 49.5L523 49L524 50L524.5 52L525 54L526 53L527 53.5L528 54.5L529.5 55.5L530 54.5L531 53L532 52.5L533.5 52L535 51.5L536 51L537 49.5L538 48.5L539 49L540 49.5L542 50L543 51L544 51.5L545 52L546 53.5L547 56L548 57.5L549 58L550 59L551 59.5L552 60L553.5 61.3" fill="none" stroke="#0000ff" stroke-width="1.7" stroke-linejoin="round"/>
<rect x="442.9" y="22.6" width="110.80000000000007" height="62.35" fill="none" stroke="#000" stroke-width="2.1"/>
<text x="439.8" y="36.4" font-family="Liberation Serif" font-size="22.7" text-anchor="end">8</text>
<text x="439.8" y="61.8" font-family="Liberation Serif" font-size="22.7" text-anchor="end">0</text>
<text x="439.8" y="87.2" font-family="Liberation Serif" font-size="22.7" text-anchor="end">-8</text>
<text x="445.9" y="103.8" font-family="Liberation Serif" font-size="22.7" text-anchor="middle">0</text>
<text x="501.3" y="103.8" font-family="Liberation Serif" font-size="22.7" text-anchor="middle">0.5</text>
<text x="556.7" y="103.8" font-family="Liberation Serif" font-size="22.7" text-anchor="middle">1</text>
<text x="466.2" y="122" font-family="Liberation Serif" font-size="22.7"><tspan font-style="italic">x</tspan><tspan dx="4">(mm)</tspan></text>
<text transform="translate(415.6 53.9) rotate(-90)" font-family="Liberation Serif" font-size="22.5" text-anchor="middle"><tspan font-size="24">ζ</tspan><tspan dx="4.6">(μm)</tspan></text>
</svg>
</body></html>
